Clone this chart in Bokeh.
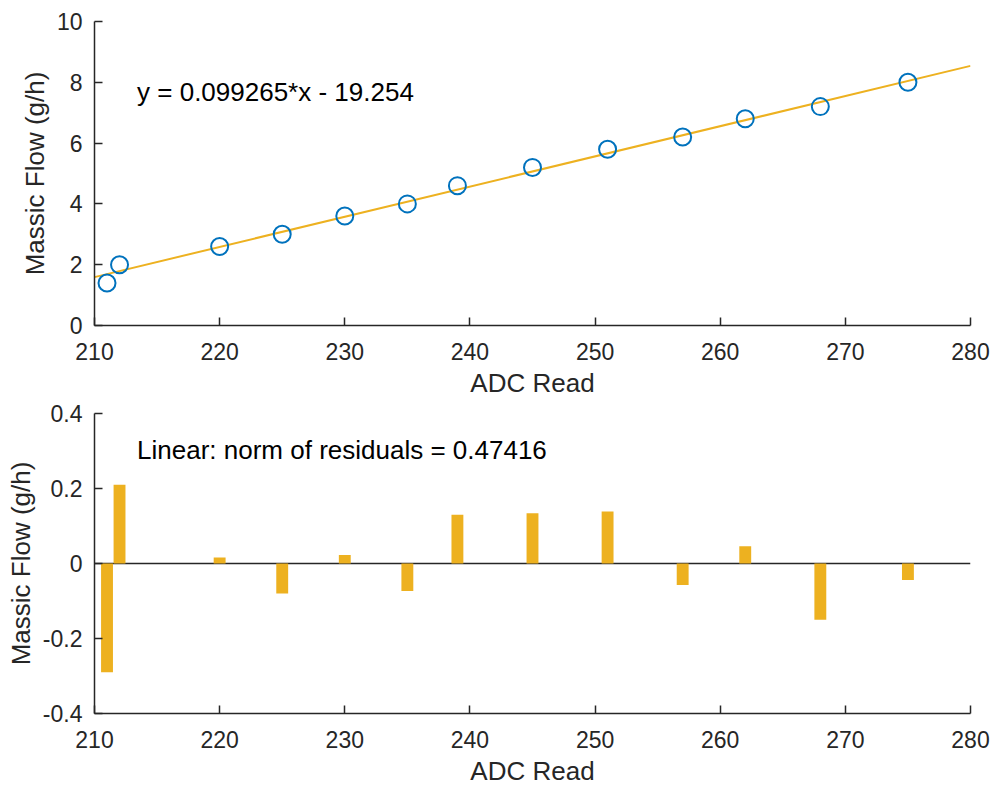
from bokeh.plotting import figure
from bokeh.layouts import column
from bokeh.models import FixedTicker, Range1d, Label
from bokeh.embed import file_html
from bokeh.resources import INLINE

# ---- data ----
adc = [211, 212, 220, 225, 230, 235, 239, 245, 251, 257, 262, 268, 275]
flow = [1.4, 2.0, 2.6, 3.0, 3.6, 4.0, 4.6, 5.2, 5.8, 6.2, 6.8, 7.2, 8.0]
fit_x = [210, 280]
fit_y = [1.592, 8.541]
residuals = [-0.29, 0.21, 0.016, -0.08, 0.023, -0.073, 0.13, 0.134, 0.139,
             -0.057, 0.046, -0.15, -0.044]
x_ticks = [210, 220, 230, 240, 250, 260, 270, 280]
y_ticks_top = [0, 2, 4, 6, 8, 10]
y_ticks_bot = [-0.4, -0.2, 0, 0.2, 0.4]
y_labels_bot = ["-0.4", "-0.2", "0", "0.2", "0.4"]
fit_text = "y = 0.099265*x - 19.254"
resid_text = "Linear: norm of residuals = 0.47416"

BLUE = "#0072BD"
YELLOW = "#EDB120"
AXC = "#262626"
FONT = "Liberation Sans"


def style(p, yt):
    p.outline_line_color = None
    p.xgrid.visible = False
    p.ygrid.visible = False
    p.background_fill_color = "white"
    p.border_fill_color = "white"
    p.xaxis.ticker = FixedTicker(ticks=x_ticks)
    p.yaxis.ticker = FixedTicker(ticks=yt)
    for ax in (p.xaxis[0], p.yaxis[0]):
        ax.axis_line_color = AXC
        ax.axis_line_width = 1.5
        ax.major_tick_line_color = AXC
        ax.major_tick_line_width = 1.5
        ax.major_tick_in = 8
        ax.major_tick_out = 0
        ax.minor_tick_line_color = None
        ax.major_label_text_font = FONT
        ax.major_label_text_font_size = "23px"
        ax.major_label_text_color = AXC
        ax.axis_label_text_font = FONT
        ax.axis_label_text_font_size = "26px"
        ax.axis_label_text_font_style = "normal"
        ax.axis_label_text_color = AXC
    p.xaxis.axis_label = "ADC Read"
    p.yaxis.axis_label = "Massic Flow (g/h)"
    p.xaxis.major_label_standoff = 17
    p.xaxis.axis_label_standoff = 5
    p.yaxis.major_label_standoff = 12
    p.yaxis.axis_label_standoff = 4


top = figure(width=995, height=400, output_backend="svg", toolbar_location=None,
             x_range=Range1d(210, 280), y_range=Range1d(0, 10),
             min_border_left=94, min_border_right=25, min_border_top=21,
             min_border_bottom=74)
style(top, y_ticks_top)
top.line(fit_x, fit_y, line_color=YELLOW, line_width=2)
top.scatter(adc, flow, marker="circle", size=17, fill_color=None,
            line_color=BLUE, line_width=2)
top.add_layout(Label(x=213.4, y=7.67, text=fit_text, text_font=FONT,
                     text_font_size="26px", text_color="black",
                     text_baseline="middle", text_align="left"))

bot = figure(width=995, height=388, output_backend="svg", toolbar_location=None,
             x_range=Range1d(210, 280), y_range=Range1d(-0.4, 0.4),
             min_border_left=94, min_border_right=25, min_border_top=13,
             min_border_bottom=74)
style(bot, y_ticks_bot)
bot.yaxis.major_label_overrides = dict(zip(y_ticks_bot, y_labels_bot))
bot.line(fit_x, [0, 0], line_color=AXC, line_width=1.5)
bot.vbar(x=adc, top=residuals, bottom=0, width=0.95, fill_color=YELLOW,
         line_color=None)
bot.add_layout(Label(x=213.4, y=0.304, text=resid_text, text_font=FONT,
                     text_font_size="26px", text_color="black",
                     text_baseline="middle", text_align="left"))

layout = column(top, bot, spacing=0)
open("out.html", "w").write(file_html(layout, INLINE))
